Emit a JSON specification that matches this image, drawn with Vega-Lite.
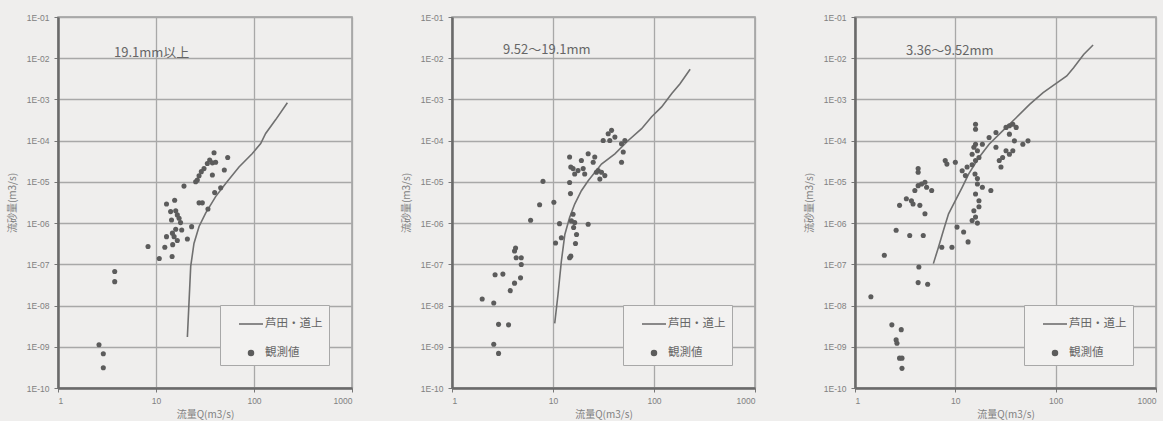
{
  "$schema": "https://vega.github.io/schema/vega-lite/v6.json",
  "background": "#efeeed",
  "padding": {"left": 6, "top": 12, "right": 5, "bottom": 0},
  "datasets": {
    "obs1": [
      {"Q": 2.62, "Qs": 1.12e-9}, {"Q": 2.9, "Qs": 6.8e-10}, {"Q": 2.9, "Qs": 3.1e-10}, {"Q": 3.79, "Qs": 6.7e-8}, {"Q": 3.79, "Qs": 3.8e-8},
      {"Q": 8.29, "Qs": 2.7e-7}, {"Q": 10.8, "Qs": 1.38e-7}, {"Q": 12.3, "Qs": 2.6e-7}, {"Q": 12.8, "Qs": 2.9e-6}, {"Q": 12.8, "Qs": 4.7e-7},
      {"Q": 14.6, "Qs": 1.55e-7}, {"Q": 14.8, "Qs": 3.0e-7}, {"Q": 15.5, "Qs": 3.6e-6}, {"Q": 14.1, "Qs": 1.9e-6}, {"Q": 14.4, "Qs": 1.19e-6},
      {"Q": 15.9, "Qs": 7.1e-7}, {"Q": 17.2, "Qs": 1.31e-6}, {"Q": 17.8, "Qs": 1.03e-6}, {"Q": 18.3, "Qs": 6.8e-7}, {"Q": 15.3, "Qs": 4.7e-7},
      {"Q": 16.5, "Qs": 3.8e-7}, {"Q": 20.9, "Qs": 4.1e-7}, {"Q": 19.3, "Qs": 7.9e-6}, {"Q": 23.1, "Qs": 8.2e-7}, {"Q": 27.5, "Qs": 3.1e-6},
      {"Q": 25.4, "Qs": 1.01e-5}, {"Q": 27.5, "Qs": 1.41e-5}, {"Q": 29.0, "Qs": 1.77e-5}, {"Q": 30.9, "Qs": 2.1e-5}, {"Q": 33.4, "Qs": 2.8e-5},
      {"Q": 35.3, "Qs": 3.4e-5}, {"Q": 37.6, "Qs": 2.9e-5}, {"Q": 40.6, "Qs": 3.0e-5}, {"Q": 39.1, "Qs": 5.1e-5}, {"Q": 37.6, "Qs": 1.47e-5},
      {"Q": 39.7, "Qs": 5.5e-6}, {"Q": 33.9, "Qs": 2.2e-6}, {"Q": 45.7, "Qs": 7.2e-6}, {"Q": 49.8, "Qs": 1.94e-5}, {"Q": 53.9, "Qs": 3.9e-5},
      {"Q": 15.9, "Qs": 2.0e-6}, {"Q": 16.5, "Qs": 1.58e-6}, {"Q": 14.7, "Qs": 5.7e-7}, {"Q": 29.7, "Qs": 3.1e-6}, {"Q": 26.4, "Qs": 1.11e-5}
    ],
    "line1": [
      {"Q": 20.9, "Qs": 1.73e-9}, {"Q": 22.6, "Qs": 8.9e-8}, {"Q": 24.4, "Qs": 3.2e-7}, {"Q": 27.5, "Qs": 8.3e-7}, {"Q": 32.1, "Qs": 1.74e-6},
      {"Q": 40.6, "Qs": 4.4e-6}, {"Q": 51.4, "Qs": 9.1e-6}, {"Q": 70.3, "Qs": 2.3e-5}, {"Q": 96.2, "Qs": 4.9e-5}, {"Q": 117, "Qs": 8.5e-5},
      {"Q": 131.5, "Qs": 1.5e-4}, {"Q": 166, "Qs": 3.2e-4}, {"Q": 219, "Qs": 8.3e-4}
    ],
    "obs2": [
      {"Q": 1.99, "Qs": 1.44e-8}, {"Q": 2.59, "Qs": 1.15e-8}, {"Q": 2.89, "Qs": 3.5e-9}, {"Q": 3.63, "Qs": 3.4e-9}, {"Q": 2.59, "Qs": 1.15e-9},
      {"Q": 2.89, "Qs": 6.9e-10}, {"Q": 3.77, "Qs": 2.3e-8}, {"Q": 2.67, "Qs": 5.6e-8}, {"Q": 3.19, "Qs": 5.8e-8}, {"Q": 4.16, "Qs": 3.5e-8},
      {"Q": 4.77, "Qs": 4.7e-8}, {"Q": 4.85, "Qs": 9.9e-8}, {"Q": 4.32, "Qs": 1.44e-7}, {"Q": 4.16, "Qs": 2.1e-7}, {"Q": 4.26, "Qs": 2.5e-7},
      {"Q": 4.85, "Qs": 1.44e-7}, {"Q": 6.0, "Qs": 1.17e-6}, {"Q": 7.37, "Qs": 2.8e-6}, {"Q": 7.96, "Qs": 1.03e-5}, {"Q": 10.2, "Qs": 3.2e-6},
      {"Q": 10.6, "Qs": 3.3e-7}, {"Q": 11.6, "Qs": 9.7e-7}, {"Q": 12.1, "Qs": 4.4e-7}, {"Q": 14.9, "Qs": 5.2e-6}, {"Q": 14.6, "Qs": 9.7e-6},
      {"Q": 15.2, "Qs": 1.13e-6}, {"Q": 15.8, "Qs": 1.64e-6}, {"Q": 16.4, "Qs": 1.03e-6}, {"Q": 16.0, "Qs": 7.8e-7}, {"Q": 17.1, "Qs": 5.3e-7},
      {"Q": 16.7, "Qs": 3.2e-7}, {"Q": 15.0, "Qs": 1.58e-7}, {"Q": 14.6, "Qs": 1.44e-7}, {"Q": 22.3, "Qs": 9.4e-7}, {"Q": 14.6, "Qs": 4.0e-5},
      {"Q": 15.0, "Qs": 2.3e-5}, {"Q": 15.8, "Qs": 2.1e-5}, {"Q": 16.4, "Qs": 1.56e-5}, {"Q": 17.7, "Qs": 1.88e-5}, {"Q": 19.1, "Qs": 3.3e-5},
      {"Q": 19.9, "Qs": 2.1e-5}, {"Q": 20.6, "Qs": 1.56e-5}, {"Q": 22.3, "Qs": 4.8e-5}, {"Q": 25.9, "Qs": 4.0e-5}, {"Q": 25.0, "Qs": 3.0e-5},
      {"Q": 26.9, "Qs": 1.71e-5}, {"Q": 28.0, "Qs": 1.88e-5}, {"Q": 29.1, "Qs": 1.17e-5}, {"Q": 32.6, "Qs": 1.42e-5}, {"Q": 31.4, "Qs": 1.01e-4},
      {"Q": 35.2, "Qs": 1.47e-4}, {"Q": 36.5, "Qs": 1.01e-4}, {"Q": 38.0, "Qs": 1.78e-4}, {"Q": 41.0, "Qs": 1.22e-4}, {"Q": 47.7, "Qs": 8.4e-5},
      {"Q": 51.5, "Qs": 1.01e-4}, {"Q": 49.6, "Qs": 5.3e-5}, {"Q": 47.7, "Qs": 3.0e-5}, {"Q": 30.2, "Qs": 1.71e-5}
    ],
    "line2": [
      {"Q": 10.4, "Qs": 3.7e-9}, {"Q": 11.2, "Qs": 1.83e-8}, {"Q": 12.1, "Qs": 1.19e-7}, {"Q": 13.1, "Qs": 5.3e-7}, {"Q": 14.6, "Qs": 1.36e-6},
      {"Q": 16.4, "Qs": 2.9e-6}, {"Q": 19.1, "Qs": 6.1e-6}, {"Q": 22.3, "Qs": 1.07e-5}, {"Q": 30.2, "Qs": 2.7e-5}, {"Q": 41.0, "Qs": 4.8e-5},
      {"Q": 55.6, "Qs": 1.01e-4}, {"Q": 75.4, "Qs": 1.95e-4}, {"Q": 94.8, "Qs": 3.8e-4}, {"Q": 119, "Qs": 6.6e-4}, {"Q": 150, "Qs": 1.4e-3},
      {"Q": 181, "Qs": 2.4e-3}, {"Q": 228, "Qs": 5.4e-3}
    ],
    "obs3": [
      {"Q": 1.44, "Qs": 1.63e-8}, {"Q": 2.33, "Qs": 3.4e-9}, {"Q": 2.57, "Qs": 1.47e-9}, {"Q": 2.62, "Qs": 1.22e-9}, {"Q": 2.89, "Qs": 2.6e-9},
      {"Q": 2.78, "Qs": 5.3e-10}, {"Q": 2.94, "Qs": 5.3e-10}, {"Q": 2.94, "Qs": 3.0e-10}, {"Q": 1.96, "Qs": 1.66e-7}, {"Q": 2.57, "Qs": 6.7e-7},
      {"Q": 3.51, "Qs": 5.0e-7}, {"Q": 4.33, "Qs": 8.6e-8}, {"Q": 4.26, "Qs": 3.6e-8}, {"Q": 5.3, "Qs": 3.3e-8}, {"Q": 4.79, "Qs": 5.0e-7},
      {"Q": 2.78, "Qs": 2.7e-6}, {"Q": 3.25, "Qs": 3.9e-6}, {"Q": 3.65, "Qs": 3.5e-6}, {"Q": 3.79, "Qs": 2.9e-6}, {"Q": 4.43, "Qs": 2.7e-6},
      {"Q": 4.98, "Qs": 1.68e-6}, {"Q": 3.95, "Qs": 6.2e-6}, {"Q": 4.26, "Qs": 8.1e-6}, {"Q": 4.61, "Qs": 8.9e-6}, {"Q": 4.98, "Qs": 9.8e-6},
      {"Q": 5.17, "Qs": 7.4e-6}, {"Q": 5.81, "Qs": 6.2e-6}, {"Q": 4.26, "Qs": 2.1e-5}, {"Q": 4.26, "Qs": 1.71e-5}, {"Q": 7.33, "Qs": 2.6e-7},
      {"Q": 9.25, "Qs": 2.6e-7}, {"Q": 10.4, "Qs": 8.0e-7}, {"Q": 12.1, "Qs": 6.1e-7}, {"Q": 13.4, "Qs": 3.5e-7}, {"Q": 7.93, "Qs": 3.3e-5},
      {"Q": 8.24, "Qs": 2.7e-5}, {"Q": 10.0, "Qs": 3.0e-5}, {"Q": 11.7, "Qs": 1.87e-5}, {"Q": 12.6, "Qs": 1.42e-5}, {"Q": 13.1, "Qs": 2.3e-5},
      {"Q": 14.7, "Qs": 4.7e-5}, {"Q": 15.3, "Qs": 6.9e-5}, {"Q": 15.9, "Qs": 8.2e-5}, {"Q": 16.6, "Qs": 5.7e-5}, {"Q": 17.2, "Qs": 3.9e-5},
      {"Q": 15.9, "Qs": 3.3e-5}, {"Q": 15.7, "Qs": 1.56e-5}, {"Q": 16.6, "Qs": 8.9e-6}, {"Q": 15.9, "Qs": 5.1e-6}, {"Q": 17.2, "Qs": 3.5e-6},
      {"Q": 15.3, "Qs": 2.0e-6}, {"Q": 15.9, "Qs": 1.4e-6}, {"Q": 14.7, "Qs": 1.16e-6}, {"Q": 18.6, "Qs": 7.4e-6}, {"Q": 22.6, "Qs": 6.2e-6},
      {"Q": 15.9, "Qs": 2.5e-4}, {"Q": 15.9, "Qs": 1.9e-4}, {"Q": 18.6, "Qs": 8.2e-5}, {"Q": 21.7, "Qs": 1.19e-4}, {"Q": 25.4, "Qs": 1.58e-4},
      {"Q": 27.4, "Qs": 3.3e-5}, {"Q": 29.6, "Qs": 3.9e-5}, {"Q": 32.0, "Qs": 2.1e-4}, {"Q": 34.6, "Qs": 2.3e-4}, {"Q": 37.4, "Qs": 2.5e-4},
      {"Q": 40.4, "Qs": 2.1e-4}, {"Q": 34.6, "Qs": 1.44e-4}, {"Q": 32.0, "Qs": 5.7e-5}, {"Q": 34.6, "Qs": 4.7e-5}, {"Q": 37.4, "Qs": 5.7e-5},
      {"Q": 38.8, "Qs": 9.9e-5}, {"Q": 47.1, "Qs": 8.2e-5}, {"Q": 53.0, "Qs": 9.9e-5}, {"Q": 25.4, "Qs": 6.9e-5}, {"Q": 28.5, "Qs": 2.3e-5},
      {"Q": 16.6, "Qs": 1.2e-5}, {"Q": 17.2, "Qs": 2.5e-6}, {"Q": 16.6, "Qs": 1.0e-6}, {"Q": 14.7, "Qs": 2.6e-5}
    ],
    "line3": [
      {"Q": 6.04, "Qs": 1.04e-7}, {"Q": 6.79, "Qs": 2.6e-7}, {"Q": 7.62, "Qs": 6.7e-7}, {"Q": 8.56, "Qs": 1.68e-6}, {"Q": 10.0, "Qs": 3.5e-6},
      {"Q": 11.7, "Qs": 7.4e-6}, {"Q": 13.6, "Qs": 1.56e-5}, {"Q": 17.2, "Qs": 3.9e-5}, {"Q": 21.7, "Qs": 8.2e-5}, {"Q": 29.6, "Qs": 1.73e-4},
      {"Q": 40.4, "Qs": 3.6e-4}, {"Q": 55.0, "Qs": 7.6e-4}, {"Q": 75.0, "Qs": 1.46e-3}, {"Q": 102, "Qs": 2.5e-3}, {"Q": 129, "Qs": 3.7e-3},
      {"Q": 151, "Qs": 5.9e-3}, {"Q": 190, "Qs": 1.23e-2}, {"Q": 236, "Qs": 2.1e-2}
    ]
  },
  "hconcat": [
    {
      "width": 294, "height": 371,
      "layer": [
        {"data": {"name": "line1"}, "mark": {"type": "line", "strokeWidth": 1.6},
         "encoding": {
           "x": {"field": "Q", "type": "quantitative", "scale": {"type": "log", "domain": [1, 1000], "nice": false}, "axis": {"title": "流量Q(m3/s)", "values": [1, 10, 100, 1000], "format": "d"}},
           "y": {"field": "Qs", "type": "quantitative", "scale": {"type": "log", "domain": [1e-10, 0.1], "nice": false}, "axis": {"title": "流砂量(m3/s)", "values": [1e-10, 1e-9, 1e-8, 1e-7, 1e-6, 1e-5, 1e-4, 1e-3, 1e-2, 1e-1], "labelExpr": "'1E-' + (datum.value >= 1e-9 ? '0' : '') + round(-log(datum.value) / LN10)"}},
           "color": {"datum": "芦田・道上", "type": "nominal", "scale": {"domain": ["芦田・道上", "観測値"], "range": ["#707070", "#5c5c5c"]},
             "legend": {"title": null, "encode": {"symbols": {"update": {
               "shape": {"signal": "datum.value === '観測値' ? 'circle' : 'stroke'"},
               "size": {"signal": "datum.value === '観測値' ? 24 : 576"},
               "fill": {"signal": "datum.value === '観測値' ? '#5c5c5c' : 'transparent'"},
               "stroke": {"signal": "datum.value === '観測値' ? 'transparent' : '#707070'"},
               "strokeWidth": {"value": 1.6}, "opacity": {"value": 1}}}}}}
         }},
        {"data": {"name": "obs1"}, "mark": {"type": "circle", "size": 26, "opacity": 1},
         "encoding": {
           "x": {"field": "Q", "type": "quantitative"},
           "y": {"field": "Qs", "type": "quantitative"},
           "color": {"datum": "観測値", "type": "nominal"}
         }},
        {"data": {"values": [{"label": "19.1mm以上"}]}, "mark": {"type": "text", "align": "left", "baseline": "middle", "fontSize": 13, "color": "#666666"},
         "encoding": {"x": {"datum": 3.73, "type": "quantitative"}, "y": {"datum": 0.0134, "type": "quantitative"}, "text": {"field": "label"}}}
      ]
    },
    {
      "width": 303, "height": 371,
      "layer": [
        {"data": {"name": "line2"}, "mark": {"type": "line", "strokeWidth": 1.6},
         "encoding": {
           "x": {"field": "Q", "type": "quantitative", "scale": {"type": "log", "domain": [1, 1000], "nice": false}, "axis": {"title": "流量Q(m3/s)", "values": [1, 10, 100, 1000], "format": "d"}},
           "y": {"field": "Qs", "type": "quantitative", "scale": {"type": "log", "domain": [1e-10, 0.1], "nice": false}, "axis": {"title": "流砂量(m3/s)", "values": [1e-10, 1e-9, 1e-8, 1e-7, 1e-6, 1e-5, 1e-4, 1e-3, 1e-2, 1e-1], "labelExpr": "'1E-' + (datum.value >= 1e-9 ? '0' : '') + round(-log(datum.value) / LN10)"}},
           "color": {"datum": "芦田・道上", "type": "nominal", "scale": {"domain": ["芦田・道上", "観測値"], "range": ["#707070", "#5c5c5c"]},
             "legend": {"title": null, "encode": {"symbols": {"update": {
               "shape": {"signal": "datum.value === '観測値' ? 'circle' : 'stroke'"},
               "size": {"signal": "datum.value === '観測値' ? 24 : 576"},
               "fill": {"signal": "datum.value === '観測値' ? '#5c5c5c' : 'transparent'"},
               "stroke": {"signal": "datum.value === '観測値' ? 'transparent' : '#707070'"},
               "strokeWidth": {"value": 1.6}, "opacity": {"value": 1}}}}}}
         }},
        {"data": {"name": "obs2"}, "mark": {"type": "circle", "size": 26, "opacity": 1},
         "encoding": {
           "x": {"field": "Q", "type": "quantitative"},
           "y": {"field": "Qs", "type": "quantitative"},
           "color": {"datum": "観測値", "type": "nominal"}
         }},
        {"data": {"values": [{"label": "9.52～19.1mm"}]}, "mark": {"type": "text", "align": "left", "baseline": "middle", "fontSize": 13, "color": "#666666"},
         "encoding": {"x": {"datum": 3.2, "type": "quantitative"}, "y": {"datum": 0.0158, "type": "quantitative"}, "text": {"field": "label"}}}
      ]
    },
    {
      "width": 301, "height": 371,
      "layer": [
        {"data": {"name": "line3"}, "mark": {"type": "line", "strokeWidth": 1.6},
         "encoding": {
           "x": {"field": "Q", "type": "quantitative", "scale": {"type": "log", "domain": [1, 1000], "nice": false}, "axis": {"title": "流量Q(m3/s)", "values": [1, 10, 100, 1000], "format": "d"}},
           "y": {"field": "Qs", "type": "quantitative", "scale": {"type": "log", "domain": [1e-10, 0.1], "nice": false}, "axis": {"title": "流砂量(m3/s)", "values": [1e-10, 1e-9, 1e-8, 1e-7, 1e-6, 1e-5, 1e-4, 1e-3, 1e-2, 1e-1], "labelExpr": "'1E-' + (datum.value >= 1e-9 ? '0' : '') + round(-log(datum.value) / LN10)"}},
           "color": {"datum": "芦田・道上", "type": "nominal", "scale": {"domain": ["芦田・道上", "観測値"], "range": ["#707070", "#5c5c5c"]},
             "legend": {"title": null, "encode": {"symbols": {"update": {
               "shape": {"signal": "datum.value === '観測値' ? 'circle' : 'stroke'"},
               "size": {"signal": "datum.value === '観測値' ? 24 : 576"},
               "fill": {"signal": "datum.value === '観測値' ? '#5c5c5c' : 'transparent'"},
               "stroke": {"signal": "datum.value === '観測値' ? 'transparent' : '#707070'"},
               "strokeWidth": {"value": 1.6}, "opacity": {"value": 1}}}}}}
         }},
        {"data": {"name": "obs3"}, "mark": {"type": "circle", "size": 26, "opacity": 1},
         "encoding": {
           "x": {"field": "Q", "type": "quantitative"},
           "y": {"field": "Qs", "type": "quantitative"},
           "color": {"datum": "観測値", "type": "nominal"}
         }},
        {"data": {"values": [{"label": "3.36～9.52mm"}]}, "mark": {"type": "text", "align": "left", "baseline": "middle", "fontSize": 13, "color": "#666666"},
         "encoding": {"x": {"datum": 3.22, "type": "quantitative"}, "y": {"datum": 0.0148, "type": "quantitative"}, "text": {"field": "label"}}}
      ]
    }
  ],
  "spacing": 100,
  "bounds": "flush",
  "resolve": {"scale": {"color": "independent", "x": "independent", "y": "independent"}, "legend": {"color": "independent"}},
  "config": {
    "font": "Noto Sans CJK JP",
    "view": {"stroke": "#9c9c9c", "strokeWidth": 1.5},
    "axis": {
      "grid": true, "gridColor": "#a8a8a8", "gridWidth": 1.3,
      "domainColor": "#6a6a6a", "domainWidth": 2.5,
      "tickColor": "#777777", "tickSize": 4,
      "labelColor": "#808080", "labelFontSize": 8.5, "labelFont": "Liberation Sans", "labelPadding": 5,
      "titleColor": "#808080", "titleFontSize": 10, "titleFontWeight": "normal"
    },
    "axisX": {"titlePadding": 5, "labelPadding": 4},
    "axisY": {"titlePadding": 9},
    "legend": {
      "orient": "bottom-right", "offset": 23,
      "strokeColor": "#a8a8a8", "fillColor": "#f2f1f0", "padding": 6,
      "labelFontSize": 11.5, "labelColor": "#666666", "labelFont": "Noto Sans CJK JP",
      "symbolSize": 196, "symbolOffset": 12, "rowPadding": 10, "labelOffset": 1, "symbolType": "stroke",
      "symbolStrokeWidth": 1.6, "symbolStrokeColor": "#707070"
    }
  }
}
